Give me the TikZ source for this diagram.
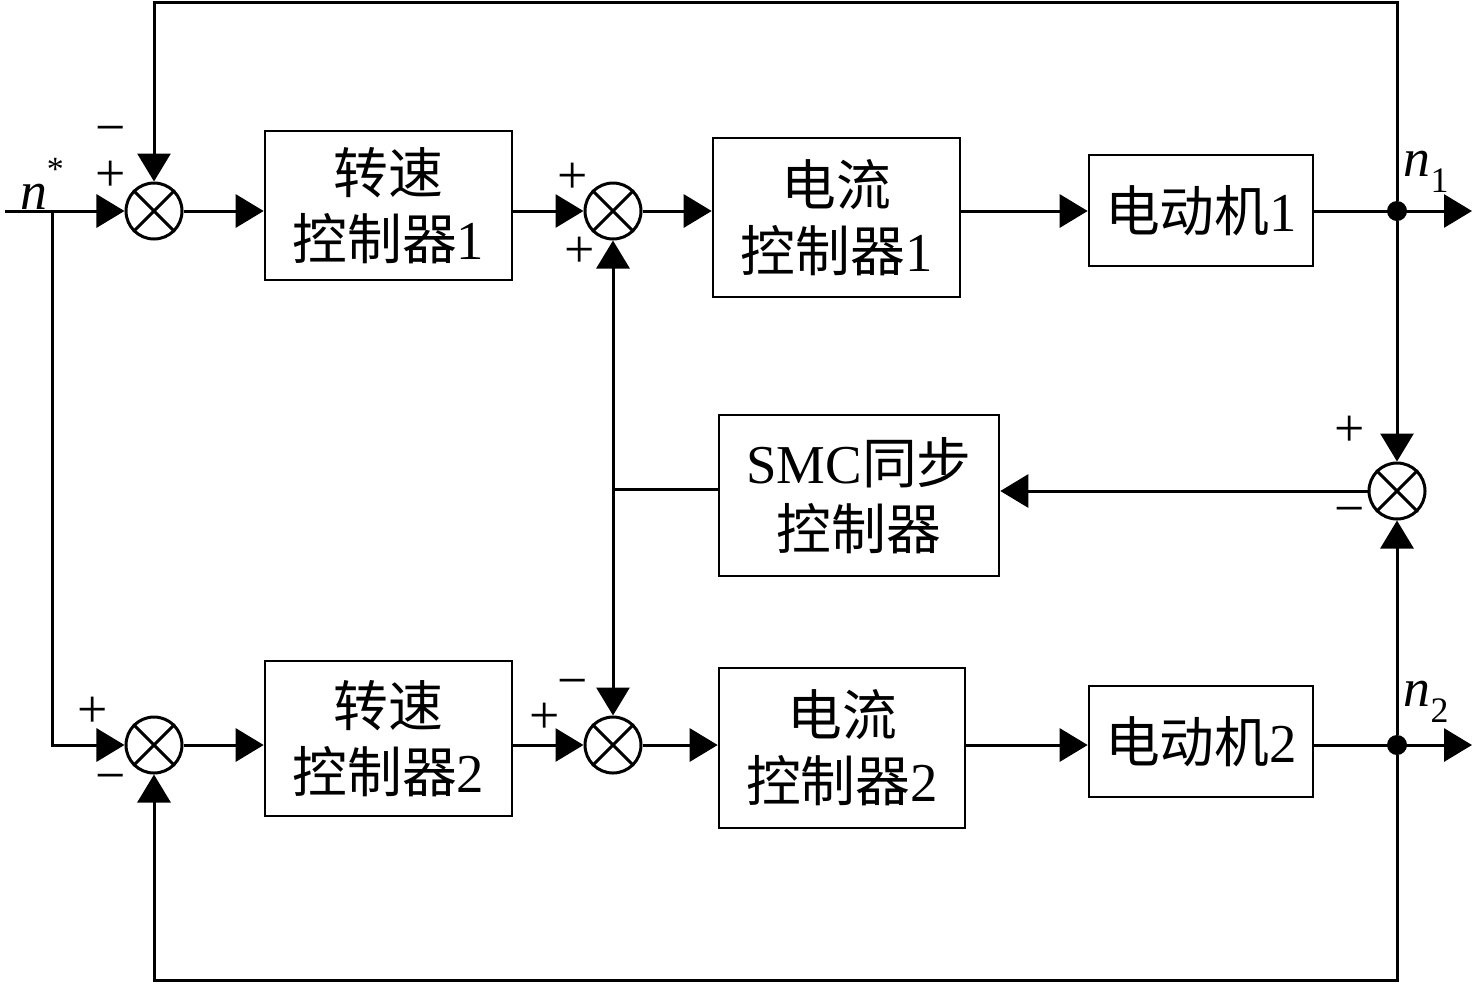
\documentclass[tikz,border=0pt]{standalone}
\usepackage{fontspec}
\setmainfont{Liberation Serif}
\newfontfamily\cjk{Noto Sans CJK SC}
\usetikzlibrary{arrows.meta}
\begin{document}
\begin{tikzpicture}[x=0.5bp,y=-0.5bp]
\tikzset{
 ln/.style={line width=1.5bp},
 arr/.style={line width=1.5bp, -{Triangle[length=14bp,width=16.5bp]}},
 box/.style={draw, line width=1.3bp, align=center, inner sep=0pt, font=\fontsize{27.5}{33}\selectfont},
 sum/.style={draw, circle, line width=1.5bp, minimum size=28bp, inner sep=0pt},
 sign/.style={font=\fontsize{27}{27}\selectfont, inner sep=0pt},
 lab/.style={font=\fontsize{27}{27}\selectfont, inner sep=0pt},
 jdot/.style={circle, fill, minimum size=10bp, inner sep=0pt},
}
\useasboundingbox (0,0) rectangle (1476,985);
% summing junctions
\node[sum] (s1) at (154,211) {};
\node[sum] (s2) at (613,211) {};
\node[sum] (s3) at (154,745) {};
\node[sum] (s4) at (613,745) {};
\node[sum] (s5) at (1397,491) {};
\foreach \s in {s1,s2,s3,s4,s5}
  \draw[ln] (\s.45) -- (\s.225) (\s.135) -- (\s.315);
% blocks
\node[box, minimum width=123.5bp, minimum height=74.5bp] (sc1) at (388.5,205.5) {{\cjk 转速}\\{\cjk 控制器}1};
\node[box, minimum width=123.5bp, minimum height=79.5bp] (cc1) at (836.5,217.5) {{\cjk 电流}\\{\cjk 控制器}1};
\node[box, minimum width=112bp, minimum height=55.5bp] (m1) at (1201,210.5) {{\cjk 电动机}1};
\node[box, minimum width=140bp, minimum height=80.5bp] (smc) at (859,495.5) {SMC{\cjk 同步}\\{\cjk 控制器}};
\node[box, minimum width=123.5bp, minimum height=77.5bp] (sc2) at (388.5,738.5) {{\cjk 转速}\\{\cjk 控制器}2};
\node[box, minimum width=123bp, minimum height=80bp] (cc2) at (842,748) {{\cjk 电流}\\{\cjk 控制器}2};
\node[box, minimum width=112bp, minimum height=55.5bp] (m2) at (1201,741.5) {{\cjk 电动机}2};
% junction dots and coordinates
\node[jdot] (j1) at (1397,211) {};
\node[jdot] (j2) at (1397,745) {};
\coordinate (in) at (5,211);
\coordinate (br) at (52,211);
\coordinate (br2) at (52,745);
\coordinate (o1) at (1472,211);
\coordinate (o2) at (1472,745);
\coordinate (t1) at (1397,2);
\coordinate (t2) at (154,2);
\coordinate (b1) at (1397,980);
\coordinate (b2) at (154,980);
\coordinate (sp) at (613,489);
% connectors top row
\draw[arr] (in) -- (s1.west);
\draw[arr] (s1.east) -- (s1.east -| sc1.west);
\draw[arr] (s2.west -| sc1.east) -- (s2.west);
\draw[arr] (s2.east) -- (s2.east -| cc1.west);
\draw[arr] (j1 -| cc1.east) -- (j1 -| m1.west);
\draw[arr] (j1 -| m1.east) -- (o1);
\draw[arr] (j1) -- (t1) -- (t2) -- (s1.north);
\draw[arr] (j1) -- (s5.north);
% bottom row
\draw[arr] (br) -- (br2) -- (s3.west);
\draw[arr] (s3.east) -- (s3.east -| sc2.west);
\draw[arr] (s4.west -| sc2.east) -- (s4.west);
\draw[arr] (s4.east) -- (s4.east -| cc2.west);
\draw[arr] (j2 -| cc2.east) -- (j2 -| m2.west);
\draw[arr] (j2 -| m2.east) -- (o2);
\draw[arr] (j2) -- (s5.south);
\draw[arr] (j2) -- (b1) -- (b2) -- (s3.south);
% sync loop
\draw[arr] (s5.west) -- (s5.west -| smc.east);
\draw[ln] (sp -| smc.west) -- (sp);
\draw[arr] (sp) -- (s2.south);
\draw[arr] (sp) -- (s4.north);
% labels
\node[lab] (nstar) at (42,184) {\textit{n}\raisebox{0.55em}{\fontsize{17}{17}\selectfont *}};
\node[lab] (n1) at (1426,172) {\textit{n}\raisebox{-0.3em}{\fontsize{18}{18}\selectfont 1}};
\node[lab] (n2) at (1426,702) {\textit{n}\raisebox{-0.3em}{\fontsize{18}{18}\selectfont 2}};
% signs
\node[sign] (p1a) at (111,136) {−};
\node[sign] (p1b) at (111,176) {+};
\node[sign] (p2a) at (573,178) {+};
\node[sign] (p2b) at (580,252) {+};
\node[sign] (p5a) at (1350,431) {+};
\node[sign] (p5b) at (1350,517) {−};
\node[sign] (p3a) at (93,712) {+};
\node[sign] (p3b) at (111,784) {−};
\node[sign] (p4a) at (545,718) {+};
\node[sign] (p4b) at (573,689) {−};
\end{tikzpicture}
\end{document}
